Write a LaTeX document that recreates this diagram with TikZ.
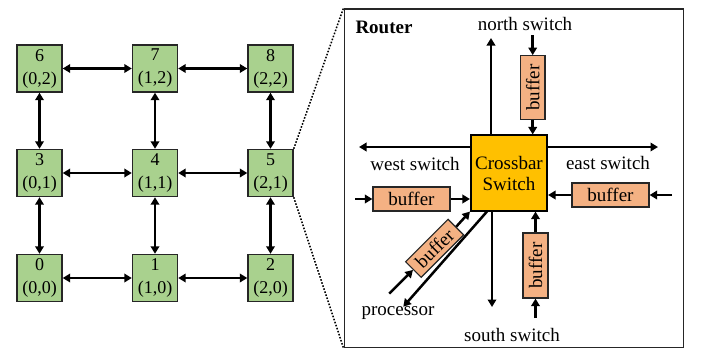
\documentclass[tikz,border=0pt]{standalone}
\usepackage{fontspec}
\setmainfont{Liberation Serif}
\usetikzlibrary{arrows.meta}
\definecolor{meshgreen}{HTML}{A9D18E}
\definecolor{bufferorange}{HTML}{F4B183}
\definecolor{xbarfill}{HTML}{FFC000}
\begin{document}
\begin{tikzpicture}[x=1pt,y=-1pt,
  tile/.style={draw=black!85, line width=1.4pt, fill=meshgreen, minimum width=45pt,
    minimum height=47pt, inner sep=0pt, align=center, font=\fontsize{18}{23}\selectfont},
  link/.style={line width=2.5pt, {Triangle[length=7.5pt,width=8.5pt]}-{Triangle[length=7.5pt,width=8.5pt]}},
  flow/.style={line width=2.5pt, -{Triangle[length=7.5pt,width=8.5pt]}},
  bufbox/.style={draw=black!85, line width=1.2pt, fill=bufferorange, inner sep=0pt,
    font=\fontsize{19}{22}\selectfont},
  lbl/.style={font=\fontsize{19}{22}\selectfont, inner sep=0pt},
  zoomline/.style={line width=1.5pt, dash pattern=on 1.6pt off 1.6pt}]
\useasboundingbox (0,0) rectangle (704,349);

% 3x3 mesh of routers
\node[tile] (n6) at (39.5,68.5) {6\\(0,2)};
\node[tile] (n7) at (155,68.5) {7\\(1,2)};
\node[tile] (n8) at (270.5,68.5) {8\\(2,2)};
\node[tile] (n3) at (39.5,173) {3\\(0,1)};
\node[tile] (n4) at (155,173) {4\\(1,1)};
\node[tile] (n5) at (270.5,173) {5\\(2,1)};
\node[tile] (n0) at (39.5,278) {0\\(0,0)};
\node[tile] (n1) at (155,278) {1\\(1,0)};
\node[tile] (n2) at (270.5,278) {2\\(2,0)};

\foreach \a/\b in {n6/n7,n7/n8,n3/n4,n4/n5,n0/n1,n1/n2,n6/n3,n3/n0,n7/n4,n4/n1,n8/n5,n5/n2}
  \draw[link] (\a) -- (\b);

% enlarged router
\node[draw=black!85, line width=1.5pt, minimum width=339pt, minimum height=338.5pt,
  inner sep=0pt, anchor=north west] (router) at (343.5,8) {};
\draw[zoomline] (n5.north east) -- (router.north west);
\draw[zoomline] (n5.south east) -- (router.south west);

\node[lbl, font=\fontsize{19}{22}\selectfont\bfseries] (rtitle) at (384,27) {Router};

\node[draw=black, line width=1.6pt, fill=xbarfill, minimum width=76.5pt, minimum height=75.5pt,
  inner sep=0pt, align=center, font=\fontsize{19}{21}\selectfont] (xb) at (509,173) {Crossbar\\Switch};

% north port
\coordinate (northout) at (491,38);
\draw[flow] (northout |- xb.north) -- (northout);
\node[bufbox, rotate=90, minimum width=63.6pt, minimum height=24.7pt] (bn) at (532.7,87.5) {buffer};
\coordinate (northin) at (532.7,35);
\draw[flow] (northin) -- (bn.east);
\draw[flow] (bn.west) -- (bn.west |- xb.north);
\node[lbl] (northlbl) at (525,24) {north switch};

% west port
\coordinate (westout) at (359,147);
\draw[flow] (westout -| xb.west) -- (westout);
\node[lbl] (westlbl) at (415,164) {west switch};
\node[bufbox, minimum width=77pt, minimum height=24pt] (bw) at (411.5,199) {buffer};
\coordinate (westin) at (355,199);
\draw[flow] (westin) -- (bw);
\draw[flow] (bw) -- (bw -| xb.west);

% east port
\coordinate (eastout) at (658,147);
\draw[flow] (eastout -| xb.east) -- (eastout);
\node[lbl] (eastlbl) at (608,163) {east switch};
\node[bufbox, minimum width=77pt, minimum height=24pt] (be) at (610.5,195) {buffer};
\coordinate (eastin) at (672,195);
\draw[flow] (eastin) -- (be);
\draw[flow] (be) -- (be -| xb.east);

% south port
\coordinate (southout) at (492,307);
\draw[flow] (southout |- xb.south) -- (southout);
\node[bufbox, rotate=90, minimum width=65pt, minimum height=25pt] (bs) at (535.5,265.5) {buffer};
\coordinate (southin) at (535.5,318);
\draw[flow] (southin) -- (bs.west);
\draw[flow] (bs.east) -- (bs.east |- xb.south);
\node[lbl] (southlbl) at (512,335) {south switch};

% local processor port
\node[bufbox, rotate=45, minimum width=60pt, minimum height=22pt] (bd) at (434.6,248.3) {buffer};
\coordinate (procin) at (389.3,293.6);
\draw[flow] (procin) -- (bd.west);
\draw[flow] (bd.east) -- (xb.south west);
\coordinate (procout) at (403.3,306.7);
\draw[flow] ([xshift=17pt]xb.south west) -- (procout);
\node[lbl] (proclbl) at (398,313) {processor};
\end{tikzpicture}
\end{document}
